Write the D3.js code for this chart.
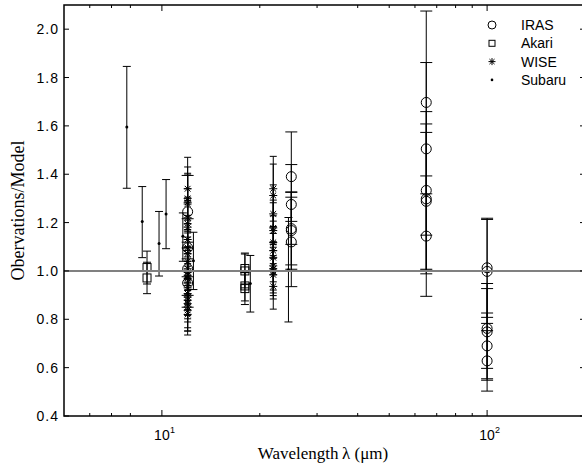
<!DOCTYPE html>
<html>
<head>
<meta charset="utf-8">
<script src="https://cdn.jsdelivr.net/npm/d3@7"></script>
<style>
  body { margin: 0; background: #fff; }
  svg { display: block; }
</style>
</head>
<body>
<div id="chart"></div>
<script>
// --- data ---
// IRAS (open circles)
const irasLambda = [12, 12, 12, 12, 25, 25, 25, 25, 25, 65, 65, 65, 65, 65, 65, 100, 100, 100, 100, 100, 100];
const irasValue = [1.245, 1.096, 1.009, 0.95, 1.39, 1.275, 1.175, 1.167, 1.12, 1.697, 1.505, 1.333, 1.298, 1.288, 1.144, 1.013, 0.998, 0.762, 0.748, 0.69, 0.628];
const irasErr = [0.15, 0.12, 0.11, 0.1, 0.185, 0.165, 0.15, 0.16, 0.185, 0.378, 0.357, 0.326, 0.31, 0.285, 0.249, 0.205, 0.215, 0.165, 0.2, 0.136, 0.125];

// Akari (open squares)
const akariLambda = [9, 9, 18, 18, 18, 18];
const akariValue = [1.014, 0.971, 1.01, 1.0, 0.938, 0.927];
const akariErr = [0.068, 0.065, 0.064, 0.07, 0.062, 0.066];

// WISE (asterisks)
const wiseLambda = [12, 12, 12, 12, 12, 12, 12, 12, 12, 12, 12, 12, 12, 12, 12, 12, 12, 12, 12, 12, 12, 12, 12, 12,
  22, 22, 22, 22, 22, 22, 22, 22, 22, 22, 22, 22, 22];
const wiseValue = [1.34, 1.3, 1.284, 1.277, 1.22, 1.195, 1.181, 1.13, 1.096, 1.071, 1.04, 1.009, 0.995, 0.982, 0.968, 0.95, 0.93, 0.906, 0.892, 0.879, 0.865, 0.851, 0.837, 0.82,
  1.34, 1.312, 1.236, 1.178, 1.167, 1.118, 1.084, 1.055, 1.021, 1.009, 0.998, 0.984, 0.936];
const wiseErr = [0.13, 0.13, 0.12, 0.12, 0.12, 0.11, 0.11, 0.1, 0.1, 0.1, 0.1, 0.09, 0.09, 0.09, 0.09, 0.09, 0.09, 0.09, 0.09, 0.09, 0.1, 0.1, 0.085, 0.085,
  0.134, 0.13, 0.12, 0.115, 0.115, 0.11, 0.1, 0.1, 0.1, 0.1, 0.1, 0.1, 0.094];

// Subaru (dots), asymmetric bars
const subaruLambda = [7.8, 8.7, 9.8, 10.3, 11.6, 12.5, 18.7, 24.5];
const subaruValue = [1.595, 1.205, 1.113, 1.236, 1.143, 1.042, 0.948, 1.005];
const subaruLow = [1.342, 1.055, 0.979, 1.092, 1.04, 0.923, 0.83, 0.789];
const subaruHigh = [1.846, 1.349, 1.246, 1.378, 1.24, 1.16, 1.064, 1.221];

const yTicks = [0.4, 0.6, 0.8, 1.0, 1.2, 1.4, 1.6, 1.8, 2.0];
const xMajorTicks = [10, 100];
const xMinorTicks = [6, 7, 8, 20, 30, 40, 50, 60, 70, 80, 90];
const legendNames = ["IRAS", "Akari", "WISE", "Subaru"];

// --- layout ---
const width = 582, height = 468;
const margin = { top: 5, right: -3, bottom: 52, left: 64 };
const innerWidth = width - margin.left - margin.right;
const innerHeight = height - margin.top - margin.bottom;

const svg = d3.select("#chart").append("svg")
  .attr("width", width)
  .attr("height", height);

const g = svg.append("g").attr("transform", `translate(${margin.left},${margin.top})`);

const x = d3.scaleLog().domain([5, 200]).range([0, innerWidth]);
const y = d3.scaleLinear().domain([0.4, 2.1]).range([innerHeight, 0]);

const ink = "#000";
const sans = "Liberation Sans, Arial, sans-serif";
const serif = "Liberation Serif, Times New Roman, serif";

// error bars + markers
function drawBars(layer, lam, val, lo, hi, capW) {
  lam.forEach((l, i) => {
    const cx = x(l);
    layer.append("line").attr("x1", cx).attr("x2", cx)
      .attr("y1", y(lo[i])).attr("y2", y(hi[i]))
      .attr("stroke", ink).attr("stroke-width", 1);
    [lo[i], hi[i]].forEach(v => {
      layer.append("line").attr("x1", cx - capW / 2).attr("x2", cx + capW / 2)
        .attr("y1", y(v)).attr("y2", y(v))
        .attr("stroke", ink).attr("stroke-width", 1);
    });
  });
}

function circleMark(sel, cx, cy, r) {
  sel.append("circle").attr("cx", cx).attr("cy", cy).attr("r", r)
    .attr("fill", "none").attr("stroke", ink).attr("stroke-width", 1);
}
function squareMark(sel, cx, cy, s) {
  sel.append("rect").attr("x", cx - s / 2).attr("y", cy - s / 2).attr("width", s).attr("height", s)
    .attr("fill", "none").attr("stroke", ink).attr("stroke-width", 1);
}
function starMark(sel, cx, cy, s) {
  const h = s / 2, d = h * 0.72;
  const p = `M${cx - h},${cy}L${cx + h},${cy}M${cx},${cy - h}L${cx},${cy + h}` +
    `M${cx - d},${cy - d}L${cx + d},${cy + d}M${cx - d},${cy + d}L${cx + d},${cy - d}`;
  sel.append("path").attr("d", p).attr("fill", "none").attr("stroke", ink).attr("stroke-width", 1);
}
function dotMark(sel, cx, cy, r) {
  sel.append("circle").attr("cx", cx).attr("cy", cy).attr("r", r).attr("fill", ink);
}

const data = g.append("g");

drawBars(data, subaruLambda, subaruValue, subaruLow, subaruHigh, 8);
drawBars(data, akariLambda, akariValue,
  akariValue.map((v, i) => v - akariErr[i]), akariValue.map((v, i) => v + akariErr[i]), 8);
drawBars(data, wiseLambda, wiseValue,
  wiseValue.map((v, i) => v - wiseErr[i]), wiseValue.map((v, i) => v + wiseErr[i]), 7);
drawBars(data, irasLambda, irasValue,
  irasValue.map((v, i) => v - irasErr[i]), irasValue.map((v, i) => v + irasErr[i]), 12);

irasLambda.forEach((l, i) => circleMark(data, x(l), y(irasValue[i]), 5));
akariLambda.forEach((l, i) => squareMark(data, x(l), y(akariValue[i]), 8));
wiseLambda.forEach((l, i) => starMark(data, x(l), y(wiseValue[i]), 8));
subaruLambda.forEach((l, i) => dotMark(data, x(l), y(subaruValue[i]), 1.5));

// reference line at 1
g.append("line")
  .attr("x1", 0).attr("x2", innerWidth)
  .attr("y1", y(1)).attr("y2", y(1))
  .attr("stroke", "#808080").attr("stroke-width", 2);

// axes box
const axisColor = "#000";
g.append("rect").attr("x", 0).attr("y", 0).attr("width", innerWidth).attr("height", innerHeight)
  .attr("fill", "none").attr("stroke", axisColor).attr("stroke-width", 1.5);

// y ticks (both sides, inward)
yTicks.forEach(t => {
  g.append("line").attr("x1", 0).attr("x2", 5).attr("y1", y(t)).attr("y2", y(t)).attr("stroke", axisColor);
  g.append("line").attr("x1", innerWidth - 5).attr("x2", innerWidth).attr("y1", y(t)).attr("y2", y(t)).attr("stroke", axisColor);
  svg.append("text")
    .attr("x", margin.left - 5).attr("y", margin.top + y(t) + 5)
    .attr("text-anchor", "end")
    .attr("font-family", sans).attr("font-size", 14)
    .attr("letter-spacing", 1)
    .text(d3.format(".1f")(t));
});

// x ticks (log, inward, top and bottom)
xMajorTicks.forEach(t => {
  g.append("line").attr("x1", x(t)).attr("x2", x(t)).attr("y1", innerHeight).attr("y2", innerHeight - 6).attr("stroke", axisColor);
  g.append("line").attr("x1", x(t)).attr("x2", x(t)).attr("y1", 0).attr("y2", 6).attr("stroke", axisColor);
  const px = margin.left + x(t);
  svg.append("text").attr("x", px).attr("y", margin.top + innerHeight + 24)
    .attr("text-anchor", "middle")
    .attr("font-family", sans).attr("font-size", 14)
    .text("10");
  svg.append("text").attr("x", px + 8).attr("y", margin.top + innerHeight + 17)
    .attr("font-family", sans).attr("font-size", 9)
    .text(Math.round(Math.log10(t)));
});
xMinorTicks.forEach(t => {
  g.append("line").attr("x1", x(t)).attr("x2", x(t)).attr("y1", innerHeight).attr("y2", innerHeight - 3).attr("stroke", axisColor);
  g.append("line").attr("x1", x(t)).attr("x2", x(t)).attr("y1", 0).attr("y2", 3).attr("stroke", axisColor);
});

// axis titles
svg.append("text")
  .attr("x", 323).attr("y", 459)
  .attr("text-anchor", "middle")
  .attr("font-family", serif).attr("font-size", 17)
  .text("Wavelength\u2009\u03bb (\u03bcm)");

svg.append("text")
  .attr("transform", `translate(24, ${margin.top + innerHeight / 2}) rotate(-90)`)
  .attr("text-anchor", "middle")
  .attr("font-family", serif).attr("font-size", 18)
  .text("Obervations/Model");

// legend
legendNames.forEach((name, i) => {
  const cy = 25 + i * 18.3;
  if (i === 0) circleMark(svg, 492, cy, 4);
  if (i === 1) squareMark(svg, 492, cy, 6);
  if (i === 2) starMark(svg, 492, cy, 7);
  if (i === 3) dotMark(svg, 492, cy, 1.3);
  svg.append("text").attr("x", 521).attr("y", cy + 5)
    .attr("font-family", sans).attr("font-size", 14)
    .text(name);
});
</script>
</body>
</html>
